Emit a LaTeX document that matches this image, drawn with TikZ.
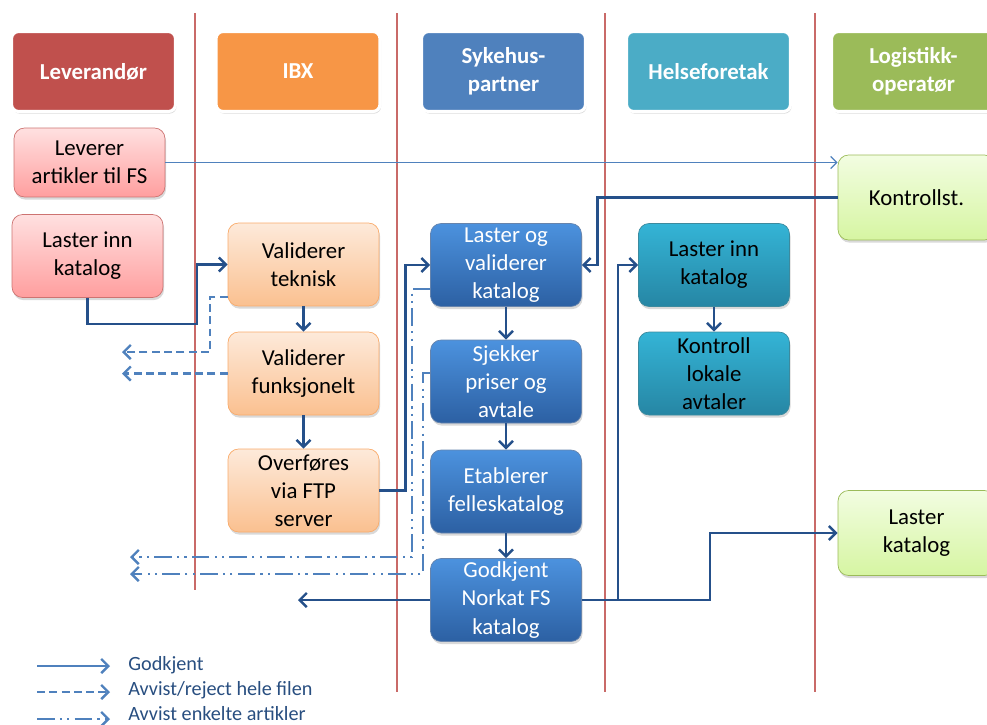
\documentclass[tikz,border=0pt]{standalone}
\usepackage{fontspec}
\setmainfont{Carlito}
\usetikzlibrary{arrows.meta,shadows}
\definecolor{lanered}{RGB}{192,80,77}
\definecolor{ibxorange}{RGB}{247,150,70}
\definecolor{sykblue}{RGB}{79,129,189}
\definecolor{hfteal}{RGB}{75,172,198}
\definecolor{logreen}{RGB}{155,187,89}
\definecolor{okblue}{RGB}{37,80,138}
\definecolor{linkblue}{RGB}{79,129,189}
\definecolor{legendtext}{RGB}{40,78,128}
\tikzset{
    boxfont/.style={font=\fontsize{13}{16}\selectfont}, % tekst i boksene
    lane line/.style={draw=lanered!85, line width=0.8pt}, % skille mellom aktørene
    lane head/.style={boxfont, font=\fontsize{13}{16}\selectfont\bfseries, text=white, draw=white, line width=1.8pt, rounded corners=4pt, minimum width=3.28cm, minimum height=1.6cm, align=center, drop shadow={shadow xshift=0.6pt, shadow yshift=-1.2pt, opacity=0.3}},
    proc/.style={boxfont, rounded corners=6pt, minimum width=3.02cm, minimum height=1.66cm, inner sep=1pt, align=center, drop shadow={shadow xshift=0.6pt, shadow yshift=-1.5pt, opacity=0.3}},
    lev box/.style={proc, draw=lanered!80, top color=red!12, bottom color=red!38!white},
    ibx box/.style={proc, draw=ibxorange!80, top color=ibxorange!20, bottom color=ibxorange!60},
    syk box/.style={proc, draw=okblue!70, top color={rgb,255:red,76;green,146;blue,222}, bottom color={rgb,255:red,44;green,96;blue,163}, text=white},
    hf box/.style={proc, draw=hfteal!80!black, top color={rgb,255:red,52;green,180;blue,214}, bottom color={rgb,255:red,38;green,134;blue,164}},
    lo box/.style={proc, draw=logreen, top color={rgb,255:red,242;green,253;blue,225}, bottom color={rgb,255:red,214;green,245;blue,162}, minimum width=3.14cm, minimum height=1.7cm},
    ok/.style={draw=okblue, line width=1.4pt, -{Straight Barb[length=4pt, width=8pt, line width=1.4pt]}},
    thin ok/.style={draw=linkblue, line width=0.7pt, -{Straight Barb[length=3.5pt, width=7pt]}},
    whole/.style={draw=linkblue, line width=1.5pt, dash pattern=on 4.5pt off 2.5pt, -{Straight Barb[length=4pt, width=8pt, line width=1.4pt]}},
    single/.style={draw=linkblue, line width=1.5pt, dash pattern=on 10pt off 3pt on 1.2pt off 3pt on 1.2pt off 3pt, -{Straight Barb[length=4pt, width=8pt, line width=1.4pt]}},
    legend text/.style={anchor=west, text=legendtext, font=\fontsize{11.5}{13}\selectfont, inner sep=0pt}
}

\begin{document}
\begin{tikzpicture}[x=0.02cm, y=-0.02cm]
    \useasboundingbox (0,0) rectangle (987,724);
    \clip (0,0) rectangle (987,724);

    \foreach \x/\ylow in {195/590, 397/692, 605/692, 815/692} {\draw[lane line] (\x,13) -- (\x,\ylow);}

    \node[lane head, fill=lanered] (hLev) at (93.5,71.5) {Leverandør};
    \node[lane head, fill=ibxorange] (hIbx) at (298,71.5) {IBX};
    \node[lane head, fill=sykblue] (hSyk) at (503.5,71.5) {Sykehus-\\partner};
    \node[lane head, fill=hfteal] (hHf) at (708.5,71.5) {Helseforetak};
    \node[lane head, fill=logreen] (hLo) at (913.5,71.5) {Logistikk-\\operatør};

    \node[lev box, minimum height=1.38cm] (levArt) at (89.5,162.5) {Leverer\\artikler til FS};
    \node[lev box] (levInn) at (87.5,256) {Laster inn\\katalog};
    \node[ibx box] (valTek) at (303.5,264.5) {Validerer\\teknisk};
    \node[ibx box] (valFunk) at (303.5,373.5) {Validerer\\funksjonelt};
    \node[ibx box] (ftp) at (303.5,490.5) {Overføres\\via FTP\\server};
    \node[syk box] (lasVal) at (506,265) {Laster og\\validerer\\katalog};
    \node[syk box] (sjekk) at (506,381.5) {Sjekker\\priser og\\avtale};
    \node[syk box] (etab) at (506,491.5) {Etablerer\\felleskatalog};
    \node[syk box] (godk) at (506,600) {Godkjent\\Norkat FS\\katalog};
    \node[hf box] (hfInn) at (714,265) {Laster inn\\katalog};
    \node[hf box] (hfKtr) at (714,373.5) {Kontroll\\lokale\\avtaler};
    \node[lo box] (kontr) at (916.5,197.5) {Kontrollst.};
    \node[lo box] (loLast) at (916.5,533) {Laster\\katalog};

    % godkjent
    \draw[thin ok] (levArt.east) -- (levArt.east -| kontr.west);
    \draw[ok] (levInn.south) |- (197,324) |- (valTek.west);
    \draw[ok] (valTek) -- (valFunk);
    \draw[ok] (valFunk) -- (ftp);
    \draw[ok] (ftp.east) -- ++(26,0) |- (lasVal.west);
    \draw[ok] (lasVal) -- (sjekk);
    \draw[ok] (sjekk) -- (etab);
    \draw[ok] (etab) -- (godk);
    \draw[ok] (kontr.west) -- ++(-240,0) |- (lasVal.east);
    \draw[ok] (godk.east) -- ++(36,0) |- (hfInn.west);
    \draw[ok] (godk.east) -- ++(128,0) |- (loLast.west);
    \draw[ok] (hfInn) -- (hfKtr);
    \coordinate (godkOut) at (298,600);
    \draw[ok] (godk.west) -- (godkOut);

    % avvist
    \coordinate (rejTek) at (122,352);
    \coordinate (rejFunk) at (122,373.5);
    \coordinate (rejLas) at (130,557);
    \coordinate (rejSje) at (130,574);
    \draw[whole] ([yshift=-0.65cm]valTek.west) -| (210,352) -- (rejTek);
    \draw[whole] (valFunk.west) -- (rejFunk);
    \draw[single] ([yshift=-0.48cm]lasVal.west) -| (412,557) -- (rejLas);
    \draw[single] ([yshift=0.17cm]sjekk.west) -| (423,574) -- (rejSje);

    % forklaring
    \coordinate (lgA) at (37,666); \coordinate (lgB) at (110,666);
    \coordinate (lgC) at (37,692); \coordinate (lgD) at (110,692);
    \coordinate (lgE) at (37,719); \coordinate (lgF) at (110,719);
    \draw[ok, draw=linkblue, line width=1.2pt] (lgA) -- (lgB);
    \draw[whole, line width=1.2pt] (lgC) -- (lgD);
    \draw[single, line width=1.2pt] (lgE) -- (lgF);
    \node[legend text] (lgOk) at (128,665) {Godkjent};
    \node[legend text] (lgWhole) at (128,690) {Avvist/reject hele filen};
    \node[legend text] (lgSingle) at (128,714) {Avvist enkelte artikler};
\end{tikzpicture}
\end{document}
